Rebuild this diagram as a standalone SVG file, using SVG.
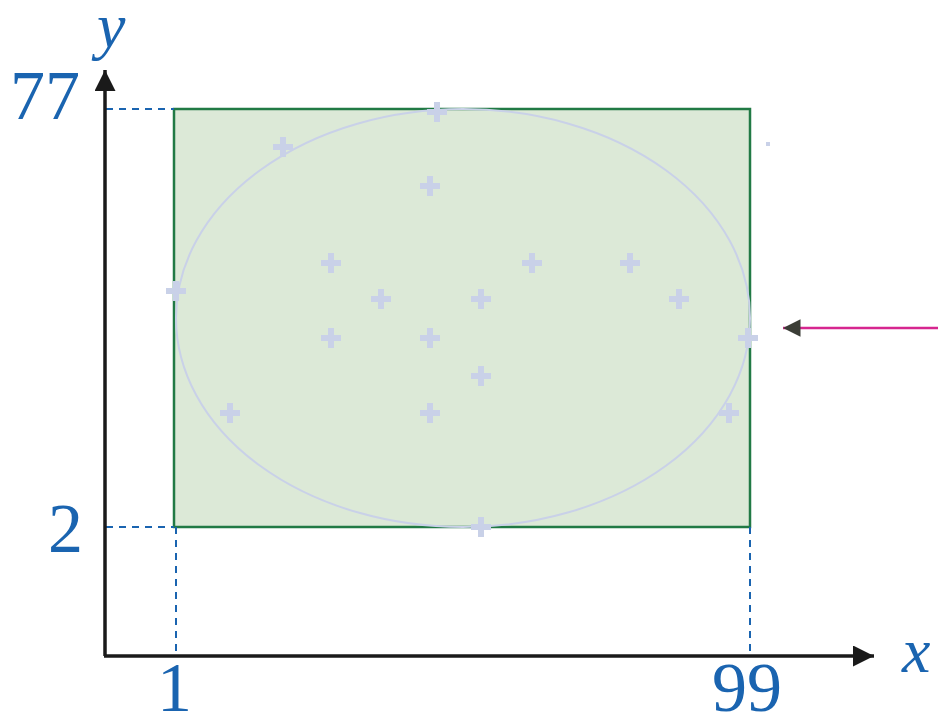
<svg xmlns="http://www.w3.org/2000/svg" width="938" height="719" viewBox="0 0 938 719">
<style>
.lbl{font-family:"Liberation Serif","DejaVu Serif",serif;fill:#1a64b0;font-size:70px}
.var{font-style:italic;font-size:64px}
.dash{stroke:#1a64b0;stroke-width:2;stroke-dasharray:7,6;fill:none}
.axis{stroke:#1a1a1a;stroke-width:3.5;fill:none}
.pt{stroke:#c9d1e8;stroke-width:6;fill:none}
</style>
<defs>
<marker id="ah" viewBox="0 0 10 10" refX="10" refY="5" markerWidth="7" markerHeight="6" markerUnits="strokeWidth" orient="auto">
<path d="M0,0L10,5L0,10z" fill="#1a1a1a"/>
</marker>
<marker id="ah2" viewBox="0 0 10 10" refX="10" refY="5" markerWidth="10" markerHeight="7" markerUnits="strokeWidth" orient="auto">
<path d="M0,0L10,5L0,10z" fill="#3b3d36"/>
</marker>
<path id="c" d="M-10,0H10M0,-10V10" class="pt"/>
</defs>
<g id="box">
<rect x="174" y="109" width="576" height="418" fill="#dce9d7" stroke="#217a45" stroke-width="2.5"/>
</g>
<g id="ellipse">
<ellipse cx="463" cy="318" rx="287" ry="209" fill="none" stroke="#c9d1e8" stroke-width="2"/>
</g>
<g id="guides">
<path class="dash" d="M106,109H174M106,527H174M176,527V655M750,527V655"/>
</g>
<g id="points">
<use href="#c" x="437" y="112"/>
<use href="#c" x="283" y="147"/>
<use href="#c" x="430" y="186"/>
<use href="#c" x="331" y="263"/>
<use href="#c" x="532" y="263"/>
<use href="#c" x="630" y="263"/>
<use href="#c" x="176" y="291"/>
<use href="#c" x="381" y="299"/>
<use href="#c" x="481" y="299"/>
<use href="#c" x="679" y="299"/>
<use href="#c" x="748" y="338"/>
<use href="#c" x="331" y="338"/>
<use href="#c" x="430" y="338"/>
<use href="#c" x="481" y="376"/>
<use href="#c" x="230" y="413"/>
<use href="#c" x="430" y="413"/>
<use href="#c" x="729" y="413"/>
<use href="#c" x="481" y="527"/>
<rect x="766" y="142" width="4" height="4" fill="#c9d1e8"/>
</g>
<g id="axes">
<path class="axis" d="M105,656V70" marker-end="url(#ah)"/>
<path class="axis" d="M104,656H874" marker-end="url(#ah)"/>
</g>
<g id="connectors">
<path d="M938,328H783" stroke="#d6268f" stroke-width="2.5" fill="none" marker-end="url(#ah2)"/>
</g>
<g id="labels">
<text class="lbl" x="10" y="119">77</text>
<text class="lbl var" x="97" y="47">y</text>
<text class="lbl" x="48" y="552">2</text>
<text class="lbl" x="157" y="711">1</text>
<text class="lbl" x="712" y="711">99</text>
<text class="lbl var" x="902" y="672">x</text>
</g>
</svg>
